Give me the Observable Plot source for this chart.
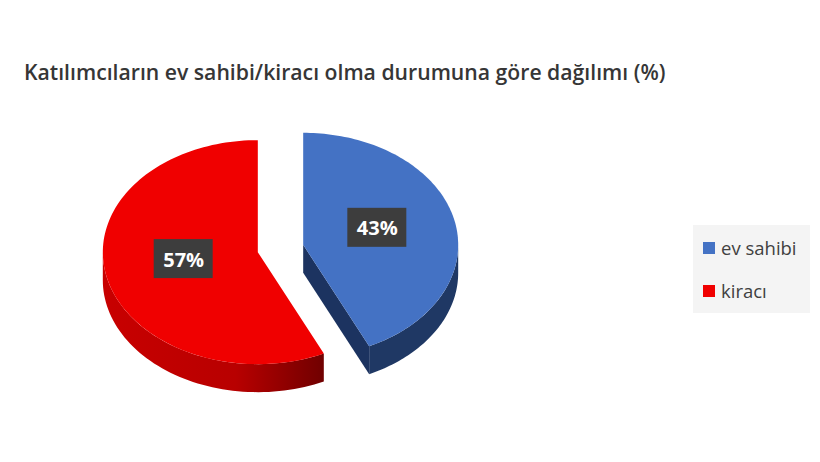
<!DOCTYPE html>
<html>
<head>
<meta charset="utf-8">
<script src="https://cdn.jsdelivr.net/npm/d3@7"></script>
<script src="https://cdn.jsdelivr.net/npm/@observablehq/plot@0.6"></script>
<style>
  html, body { margin: 0; padding: 0; background: #fff; }
  #wrap { position: relative; width: 820px; height: 462px; overflow: hidden; }
  #title { position: absolute; left: 24px; top: 57px; font-family: "Open Sans", sans-serif; font-weight: 600; font-size: 21.2px; color: #363636; white-space: nowrap; }
  #legend { position: absolute; left: 693px; top: 225px; width: 117px; height: 88px; background: #f4f4f4; font-family: "Open Sans", sans-serif; font-size: 18.5px; color: #404040; }
  .li { position: absolute; left: 10px; display: flex; align-items: center; }
  .sw { width: 12px; height: 12px; margin-right: 6px; }
  #chart { position: absolute; left: 0; top: 0; }
</style>
</head>
<body>
<div id="wrap">
  <div id="chart"></div>
  <div id="title"></div>
  <div id="legend"></div>
</div>
<script>
const titleText = "Katılımcıların ev sahibi/kiracı olma durumuna göre dağılımı (%)";
const categories = ["ev sahibi", "kiracı"];
const values = [43, 57];
const topColors = ["#4472C4", "#F00000"];
const sideColors = ["#1F3864", "url(#redSide)"];
const cutColors = ["#1C3360", "#A00000"];

document.getElementById("title").textContent = titleText;

const explode = 0.15;
const depth = 0.25;
const pie = d3.pie().sort(null).startAngle(0).endAngle(2 * Math.PI)(values);

const polys = [];
const labels = [];
function pt(id, cx, cy, a, r, dz) {
  return {id, u: cx + r * Math.sin(a), v: cy + r * Math.cos(a) - dz};
}
pie.forEach((s, i) => {
  const mid = (s.startAngle + s.endAngle) / 2;
  const cx = explode * Math.sin(mid), cy = explode * Math.cos(mid);
  const w0 = Math.max(s.startAngle, Math.PI / 2), w1 = Math.min(s.endAngle, 3 * Math.PI / 2);
  if (w1 > w0) {
    const id = "wall" + i;
    const n = 60, top = [], bot = [];
    for (let k = 0; k <= n; k++) {
      const a = w0 + (w1 - w0) * k / n;
      top.push({...pt(id, cx, cy, a, 1, 0), fill: sideColors[i]});
      bot.push({...pt(id, cx, cy, a, 1, depth), fill: sideColors[i]});
    }
    polys.push(...top, ...bot.reverse());
  }
  const endFace = Math.cos(s.endAngle + Math.PI / 2) < 0;
  if (endFace && s.endAngle < 2 * Math.PI - 1e-6) {
    const id = "cut" + i;
    const a = s.endAngle;
    [pt(id, cx, cy, a, 0, 0), pt(id, cx, cy, a, 1, 0), pt(id, cx, cy, a, 1, depth), pt(id, cx, cy, a, 0, depth)]
      .forEach(d => polys.push({...d, fill: cutColors[i]}));
  }
  labels.push({u: cx + 0.49 * Math.sin(mid), v: cy + 0.49 * Math.cos(mid) + 0.045, text: values[i] + "%"});
});
const faces = [];
pie.forEach((s, i) => {
  const mid = (s.startAngle + s.endAngle) / 2;
  const cx = explode * Math.sin(mid), cy = explode * Math.cos(mid);
  const id = "top" + i, n = 120;
  faces.push({id, u: cx, v: cy, fill: topColors[i]});
  for (let k = 0; k <= n; k++) {
    const a = s.startAngle + (s.endAngle - s.startAngle) * k / n;
    faces.push({...pt(id, cx, cy, a, 1, 0), fill: topColors[i]});
  }
});
const shadow = d3.range(0, 121).map(k => {
  const a = 2 * Math.PI * k / 120;
  return {u: -0.02 + 1.1 * Math.sin(a), v: -0.22 + 1.0 * Math.cos(a)};
});

const W = 820, H = 462;
const cxPx = 280, cyPx = 248, rx = 155, ry = 112;
const boxW = 59 / rx, boxH = 39 / ry;

const chart = Plot.plot({
  width: W, height: H,
  marginTop: 0, marginBottom: 0, marginLeft: 0, marginRight: 0,
  x: {type: "linear", domain: [-1, 1], range: [cxPx - rx, cxPx + rx], axis: null},
  y: {type: "linear", domain: [-1, 1], range: [cyPx + ry, cyPx - ry], axis: null},
  style: {overflow: "visible"},
  marks: [
    Plot.line(shadow, {x: "u", y: "v", fill: "#e2e2e2", stroke: "none", ariaLabel: "shadow"}),
    Plot.line(polys, {x: "u", y: "v", z: "id", fill: "fill", stroke: "none"}),
    Plot.line(faces, {x: "u", y: "v", z: "id", fill: "fill", stroke: "none"}),
    Plot.rect(labels, {x1: d => d.u - boxW / 2, x2: d => d.u + boxW / 2, y1: d => d.v - boxH / 2, y2: d => d.v + boxH / 2, fill: "#3d3d3d", ariaLabel: "labelbox"}),
    Plot.text(labels, {x: "u", y: "v", text: "text", fill: "white", fontSize: 20, fontWeight: "bold", fontFamily: "Open Sans", dy: 1})
  ]
});
document.getElementById("chart").appendChild(chart);
const svgNS = "http://www.w3.org/2000/svg";
const defs = document.createElementNS(svgNS, "defs");
defs.innerHTML = '<linearGradient id="redSide" x1="0" y1="0" x2="1" y2="0"><stop offset="0" stop-color="#C80000"/><stop offset="0.6" stop-color="#B80000"/><stop offset="1" stop-color="#700000"/></linearGradient>' +
  '<filter id="blurF" x="-30%" y="-30%" width="160%" height="160%"><feGaussianBlur stdDeviation="7"/></filter>' +
  '<filter id="boxSh" x="-30%" y="-30%" width="160%" height="160%"><feDropShadow dx="2" dy="3" stdDeviation="2" flood-color="#000" flood-opacity="0.35"/></filter>';
chart.insertBefore(defs, chart.firstChild);
const sh = chart.querySelector('[aria-label="shadow"]');
if (sh) sh.setAttribute("filter", "url(#blurF)");
const lb = chart.querySelector('[aria-label="labelbox"]');
if (lb) lb.setAttribute("filter", "url(#boxSh)");

const leg = document.getElementById("legend");
categories.forEach((c, i) => {
  const row = document.createElement("div");
  row.className = "li";
  row.style.top = (i === 0 ? 10 : 53) + "px";
  row.innerHTML = `<span class="sw" style="background:${topColors[i]}"></span><span>${c}</span>`;
  leg.appendChild(row);
});
</script>
</body>
</html>
